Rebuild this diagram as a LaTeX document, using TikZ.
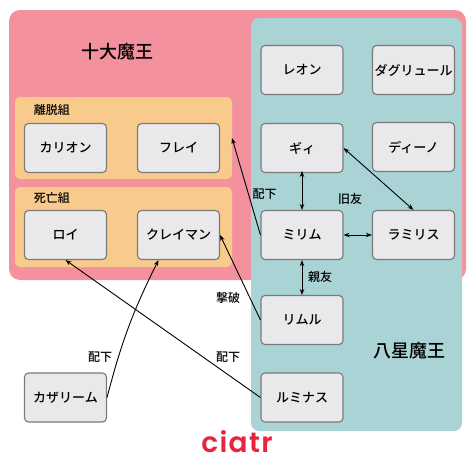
\documentclass[tikz,border=0pt]{standalone}
\usepackage{fontspec}
\setmainfont{Noto Sans CJK JP Medium}
\newfontfamily\logofont{Poppins SemiBold}
\usetikzlibrary{arrows.meta,calc}
\definecolor{pinkbg}{HTML}{F4919E}
\definecolor{tealbg}{HTML}{A9D3D5}
\definecolor{orangebg}{HTML}{F8CB8C}
\definecolor{nodefill}{HTML}{E9E9EB}
\definecolor{nodeline}{HTML}{7A7A7A}
\definecolor{logored}{HTML}{E8233F}
\tikzset{
  person/.style={draw=nodeline, fill=nodefill, line width=1.1pt, rounded corners=4pt,
    minimum width=82pt, minimum height=49pt, inner sep=0pt, font=\fontsize{13}{13}\selectfont},
  rel/.style={-{Stealth[length=6pt,width=4.5pt]}, line width=0.9pt, black},
  mutual/.style={{Stealth[length=6pt,width=4.5pt]}-{Stealth[length=6pt,width=4.5pt]}, line width=0.9pt, black},
  lbl/.style={font=\fontsize{12}{12}\selectfont, inner sep=0pt},
  grouplbl/.style={font=\fontsize{12}{12}\selectfont, inner sep=0pt},
  title/.style={font=\fontsize{18}{18}\selectfont, inner sep=0pt}
}
\begin{document}
\begin{tikzpicture}[x=1pt,y=-1pt]
\useasboundingbox (0,0) rectangle (474,474);
\fill[white] (0,0) rectangle (474,474);
% groups
\fill[pinkbg, rounded corners=11pt] (9,10) rectangle (466,280);
\fill[tealbg, rounded corners=8pt] (251,18) rectangle (462,431);
\fill[orangebg, rounded corners=5pt] (15,97) rectangle (232,179);
\fill[orangebg, rounded corners=5pt] (15,187) rectangle (232,267);
\node[title] (t10) at (117,52) {十大魔王};
\node[title] (t8) at (409,351) {八星魔王};
\node[grouplbl] (g1) at (52,110) {離脱組};
\node[grouplbl] (g2) at (52,198) {死亡組};
% persons
\node[person] (karion) at (65.5,148) {カリオン};
\node[person] (frey) at (178.5,148) {フレイ};
\node[person] (roy) at (65.5,235) {ロイ};
\node[person] (clayman) at (178.5,235) {クレイマン};
\node[person] (leon) at (302,70) {レオン};
\node[person] (dagruel) at (413.5,70) {ダグリュール};
\node[person] (guy) at (302,148) {ギィ};
\node[person] (dino) at (413.5,147) {ディーノ};
\node[person] (milim) at (302,235) {ミリム};
\node[person] (ramiris) at (413.5,235) {ラミリス};
\node[person] (rimuru) at (302,320) {リムル};
\node[person] (luminous) at (302,397.5) {ルミナス};
\node[person] (kazalim) at (65.5,397.5) {カザリーム};
% connectors
\coordinate (freyend) at (232,138);
\draw[rel] (milim.west) -- (freyend);
\draw[rel] (rimuru.west) -- (clayman.east);
\draw[rel] (luminous.west) -- (roy.south);
\draw[rel] (kazalim.east) to[bend left=6] ([xshift=-20pt]clayman.south);
\draw[mutual] ([yshift=2pt]guy.south) -- (milim.north);
\draw[mutual] (guy.east) -- (ramiris.north);
\draw[mutual] (milim.east) -- (ramiris.west);
\draw[mutual] (milim.south) -- (rimuru.north);
% labels
\node[lbl] (l1) at (264.5,194) {配下};
\node[lbl] (l2) at (350,198.5) {旧友};
\node[lbl] (l3) at (228,298) {撃破};
\node[lbl] (l4) at (228,357) {配下};
\node[lbl] (l5) at (100,357) {配下};
\node[lbl] (l6) at (320,277) {親友};
% logo
\node[inner sep=0pt, text=logored, font=\logofont\fontsize{28}{28}\selectfont\addfontfeatures{LetterSpace=5}] (logo) at (237,442) {ciatr};
\end{tikzpicture}
\end{document}
